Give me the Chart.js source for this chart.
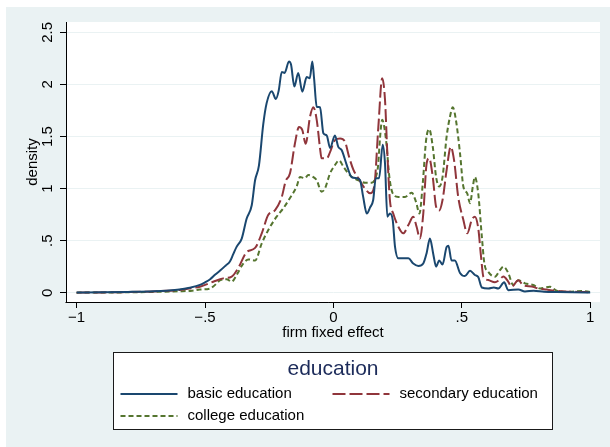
<!DOCTYPE html>
<html>
<head>
<meta charset="utf-8">
<title>Firm fixed effect density by education</title>
<style>
  html, body { margin: 0; padding: 0; background: #ffffff; }
  canvas { display: block; }
</style>
<script src="https://cdn.jsdelivr.net/npm/chart.js@4.4.1/dist/chart.umd.min.js"></script>
</head>
<body>
<canvas id="chart" width="610" height="447"></canvas>
<script>
// Kernel density estimates of the firm fixed effect, by education group
const seriesLabels = ['basic education', 'secondary education', 'college education'];
const legendTitle = 'education';
const xTitle = 'firm fixed effect';
const yTitle = 'density';

const xTickValues = [-1, -0.5, 0, 0.5, 1];
const xTickLabels = ['\u22121', '\u2212.5', '0', '.5', '1'];
const yTickValues = [0, 0.5, 1, 1.5, 2, 2.5];
const yTickLabels = ['0', '.5', '1', '1.5', '2', '2.5'];

const basicFx = [-1.0, -0.9, -0.8, -0.7, -0.65, -0.6, -0.56, -0.52, -0.5, -0.48, -0.46, -0.44, -0.42, -0.403,
  -0.39, -0.377, -0.357, -0.338, -0.318, -0.305, -0.29, -0.273, -0.26, -0.24, -0.224, -0.213, -0.201, -0.19,
  -0.173, -0.165, -0.152, -0.137, -0.121, -0.104, -0.092, -0.082, -0.075, -0.065, -0.052, -0.039, -0.026,
  -0.013, 0.006, 0.019, 0.032, 0.052, 0.071, 0.091, 0.104, 0.116, 0.13, 0.143, 0.155, 0.165, 0.178, 0.192,
  0.201, 0.21, 0.22, 0.231, 0.24, 0.253, 0.272, 0.292, 0.311, 0.331, 0.35, 0.363, 0.376, 0.389, 0.40, 0.412,
  0.425, 0.441, 0.448, 0.46, 0.473, 0.493, 0.512, 0.532, 0.551, 0.564, 0.578, 0.603, 0.625, 0.642, 0.665,
  0.681, 0.72, 0.746, 0.78, 0.82, 0.87, 0.93, 1.0];
const basicDensity = [0.002, 0.004, 0.008, 0.014, 0.02, 0.03, 0.048, 0.075, 0.1, 0.13, 0.175, 0.215, 0.26, 0.30,
  0.37, 0.44, 0.52, 0.71, 0.84, 1.08, 1.22, 1.62, 1.82, 1.935, 1.86, 1.94, 2.12, 2.11,
  2.22, 2.19, 1.98, 2.11, 1.93, 2.07, 2.06, 2.22, 2.05, 1.785, 1.78, 1.53, 1.51,
  1.39, 1.51, 1.40, 1.37, 1.225, 1.11, 1.10, 1.08, 0.92, 0.76, 0.82, 0.89, 1.10, 1.10, 1.42,
  1.24, 0.73, 0.76, 0.70, 0.44, 0.33, 0.33, 0.33, 0.28, 0.256, 0.28, 0.38, 0.52, 0.37, 0.25, 0.31,
  0.27, 0.44, 0.45, 0.31, 0.31, 0.19, 0.16, 0.21, 0.17, 0.15, 0.05, 0.04, 0.05, 0.04, 0.10,
  0.025, 0.03, 0.012, 0.02, 0.01, 0.006, 0.004, 0.003];

const secondaryFx = [-1.0, -0.9, -0.8, -0.7, -0.65, -0.6, -0.55, -0.52, -0.468, -0.429, -0.396, -0.37, -0.338,
  -0.305, -0.279, -0.254, -0.227, -0.201, -0.186, -0.169, -0.15, -0.134, -0.121, -0.108, -0.091, -0.078,
  -0.065, -0.052, -0.046, -0.026, -0.013, 0.006, 0.026, 0.045, 0.061, 0.078, 0.097, 0.123, 0.143, 0.159,
  0.175, 0.19, 0.201, 0.21, 0.22, 0.233, 0.253, 0.272, 0.292, 0.311, 0.324, 0.337, 0.35, 0.363, 0.373,
  0.387, 0.40, 0.412, 0.425, 0.441, 0.457, 0.47, 0.486, 0.506, 0.521, 0.539, 0.551, 0.564, 0.575, 0.584,
  0.603, 0.629, 0.645, 0.662, 0.68, 0.694, 0.72, 0.74, 0.772, 0.798, 0.83, 0.863, 0.9, 0.95, 1.0];
const secondaryDensity = [0.001, 0.003, 0.006, 0.012, 0.018, 0.026, 0.045, 0.058, 0.106, 0.138, 0.155, 0.24, 0.39,
  0.43, 0.57, 0.746, 0.794, 0.92, 1.07, 1.146, 1.43, 1.59, 1.56, 1.43, 1.69, 1.78,
  1.66, 1.386, 1.29, 1.29, 1.35, 1.465, 1.48, 1.45, 1.305, 1.18, 1.10, 1.0, 0.954, 1.02,
  1.59, 2.06, 1.85, 1.34, 0.89, 0.76, 0.633, 0.57, 0.65, 0.73, 0.633, 0.52, 0.76, 1.24, 1.29,
  1.11, 0.825, 0.79, 0.89, 1.18, 1.40, 1.27, 0.92, 0.70, 0.57, 0.70, 0.73, 0.62, 0.345, 0.154,
  0.122, 0.10, 0.12, 0.155, 0.11, 0.058, 0.12, 0.07, 0.06, 0.04, 0.03, 0.02, 0.012, 0.008, 0.005];

const collegeFx = [-1.0, -0.9, -0.8, -0.7, -0.6, -0.55, -0.52, -0.48, -0.468, -0.44, -0.416, -0.396, -0.377,
  -0.351, -0.331, -0.305, -0.279, -0.254, -0.221, -0.195, -0.169, -0.143, -0.13, -0.111, -0.098, -0.078,
  -0.065, -0.046, -0.033, -0.013, 0.006, 0.022, 0.039, 0.058, 0.078, 0.097, 0.123, 0.149, 0.165, 0.174,
  0.182, 0.19, 0.205, 0.218, 0.231, 0.253, 0.279, 0.305, 0.322, 0.335, 0.348, 0.361, 0.373, 0.387, 0.40,
  0.412, 0.425, 0.441, 0.454, 0.465, 0.477, 0.493, 0.506, 0.521, 0.532, 0.543, 0.551, 0.564, 0.578, 0.588,
  0.603, 0.629, 0.649, 0.662, 0.681, 0.70, 0.72, 0.746, 0.778, 0.805, 0.843, 0.87, 0.92, 0.967, 1.0];
const collegeDensity = [0.001, 0.002, 0.004, 0.008, 0.014, 0.02, 0.03, 0.04, 0.06, 0.12, 0.13, 0.106, 0.17,
  0.28, 0.32, 0.31, 0.474, 0.60, 0.73, 0.81, 0.91, 1.02, 1.11, 1.10, 1.13, 1.11,
  1.08, 0.97, 1.0, 1.146, 1.225, 1.27, 1.21, 1.146, 1.10, 1.08, 1.056, 1.056, 1.11, 1.22,
  1.5, 1.66, 1.465, 1.11, 0.954, 0.92, 0.92, 0.96, 0.87, 0.76, 1.05, 1.465, 1.57, 1.40, 1.11,
  1.02, 1.11, 1.50, 1.69, 1.78, 1.66, 1.34, 1.02, 0.954, 0.86, 1.02, 1.11, 0.954, 0.54, 0.28,
  0.20, 0.154, 0.218, 0.25, 0.19, 0.074, 0.12, 0.09, 0.074, 0.04, 0.058, 0.02, 0.01, 0.016, 0.008];

const FONT = "'Liberation Sans', Arial, Helvetica, sans-serif";
const BG = '#eaf2f3';

function toPoints(xs, ys) {
  return xs.map((x, i) => ({ x: x, y: ys[i] }));
}

// Outer graph region and white plot region
const backgroundPlugin = {
  id: 'graphBackground',
  beforeDraw(chart) {
    const { ctx, chartArea } = chart;
    ctx.save();
    ctx.fillStyle = '#ffffff';
    ctx.fillRect(0, 0, chart.width, chart.height);
    ctx.fillStyle = BG;
    ctx.fillRect(6, 7, chart.width - 6, chart.height - 7);
    ctx.fillStyle = '#ffffff';
    ctx.fillRect(chartArea.left, chartArea.top, chartArea.right - chartArea.left, chartArea.bottom - chartArea.top);
    ctx.restore();
  }
};

// Horizontal axis line runs from the left edge to the last tick
const xAxisLinePlugin = {
  id: 'xAxisLine',
  afterDraw(chart) {
    const { ctx, chartArea, scales } = chart;
    const xEnd = scales.x.getPixelForValue(xTickValues[xTickValues.length - 1]);
    const y = Math.round(chartArea.bottom) + 0.5;
    ctx.save();
    ctx.strokeStyle = '#000000';
    ctx.lineWidth = 1;
    ctx.beginPath();
    ctx.moveTo(chartArea.left - 0.5, y);
    ctx.lineTo(xEnd + 0.5, y);
    ctx.stroke();
    ctx.restore();
  }
};

// Boxed legend with a title, two columns
const legendBoxPlugin = {
  id: 'legendBox',
  afterDraw(chart) {
    const { ctx } = chart;
    const box = { x: 113.5, y: 352.5, w: 439, h: 77 };
    const slots = [
      { x: 120.5, y: 394 },
      { x: 332.5, y: 394 },
      { x: 120.5, y: 416 }
    ];
    const sampleLen = 57;
    ctx.save();
    ctx.fillStyle = '#ffffff';
    ctx.fillRect(box.x, box.y, box.w, box.h);
    ctx.strokeStyle = '#1a1a1a';
    ctx.lineWidth = 1;
    ctx.strokeRect(box.x, box.y, box.w, box.h);

    ctx.fillStyle = '#1c2b5a';
    ctx.font = '21px ' + FONT;
    ctx.textAlign = 'center';
    ctx.textBaseline = 'middle';
    ctx.fillText(legendTitle, box.x + box.w / 2, 369);

    chart.data.datasets.forEach((ds, i) => {
      const s = slots[i];
      ctx.strokeStyle = ds.borderColor;
      ctx.lineWidth = ds.borderWidth;
      ctx.setLineDash(ds.borderDash || []);
      ctx.beginPath();
      ctx.moveTo(s.x, s.y);
      ctx.lineTo(s.x + sampleLen, s.y);
      ctx.stroke();
      ctx.setLineDash([]);
      ctx.fillStyle = '#000000';
      ctx.font = '15px ' + FONT;
      ctx.textAlign = 'left';
      ctx.textBaseline = 'middle';
      ctx.fillText(ds.label, s.x + sampleLen + 10, s.y);
    });
    ctx.restore();
  }
};

new Chart(document.getElementById('chart'), {
  type: 'line',
  data: {
    datasets: [
      {
        label: seriesLabels[0],
        data: toPoints(basicFx, basicDensity),
        borderColor: '#1a476f',
        borderWidth: 2,
        borderDash: [],
        pointRadius: 0,
        fill: false,
        cubicInterpolationMode: 'monotone'
      },
      {
        label: seriesLabels[1],
        data: toPoints(secondaryFx, secondaryDensity),
        borderColor: '#90353b',
        borderWidth: 2,
        borderDash: [13, 4],
        pointRadius: 0,
        fill: false,
        cubicInterpolationMode: 'monotone'
      },
      {
        label: seriesLabels[2],
        data: toPoints(collegeFx, collegeDensity),
        borderColor: '#55752f',
        borderWidth: 2,
        borderDash: [5, 3],
        pointRadius: 0,
        fill: false,
        cubicInterpolationMode: 'monotone'
      }
    ]
  },
  options: {
    responsive: false,
    animation: false,
    devicePixelRatio: 1,
    layout: { padding: { left: 0, top: 22, right: 10, bottom: 105 } },
    plugins: {
      legend: { display: false },
      tooltip: { enabled: false }
    },
    scales: {
      x: {
        type: 'linear',
        min: -1.0413,
        max: 1.0382,
        afterBuildTicks(scale) { scale.ticks = xTickValues.map(v => ({ value: v })); },
        afterFit(scale) { scale.height = 40; },
        grid: { drawOnChartArea: false, drawTicks: true, tickLength: 6, tickColor: '#000000', tickWidth: 1 },
        border: { display: false },
        ticks: {
          color: '#000000',
          font: { family: FONT, size: 15 },
          padding: 1,
          maxRotation: 0,
          minRotation: 0,
          autoSkip: false,
          callback: (value, index) => xTickLabels[index]
        },
        title: {
          display: true,
          text: xTitle,
          color: '#000000',
          font: { family: FONT, size: 15 },
          padding: { top: 0, bottom: 0 }
        }
      },
      y: {
        type: 'linear',
        min: -0.089,
        max: 2.599,
        afterBuildTicks(scale) { scale.ticks = yTickValues.map(v => ({ value: v })); },
        afterFit(scale) { scale.width = 66; },
        grid: { color: BG, lineWidth: 1, tickLength: 6, tickColor: '#000000', tickWidth: 1 },
        border: { display: true, color: '#000000', width: 1 },
        ticks: {
          color: '#000000',
          font: { family: FONT, size: 15 },
          padding: 2,
          minRotation: 90,
          maxRotation: 90,
          crossAlign: 'center',
          autoSkip: false,
          callback: (value, index) => yTickLabels[index]
        },
        title: {
          display: true,
          text: yTitle,
          color: '#000000',
          font: { family: FONT, size: 15 },
          padding: { top: 24, bottom: 0 }
        }
      }
    }
  },
  plugins: [backgroundPlugin, xAxisLinePlugin, legendBoxPlugin]
});
</script>
</body>
</html>
